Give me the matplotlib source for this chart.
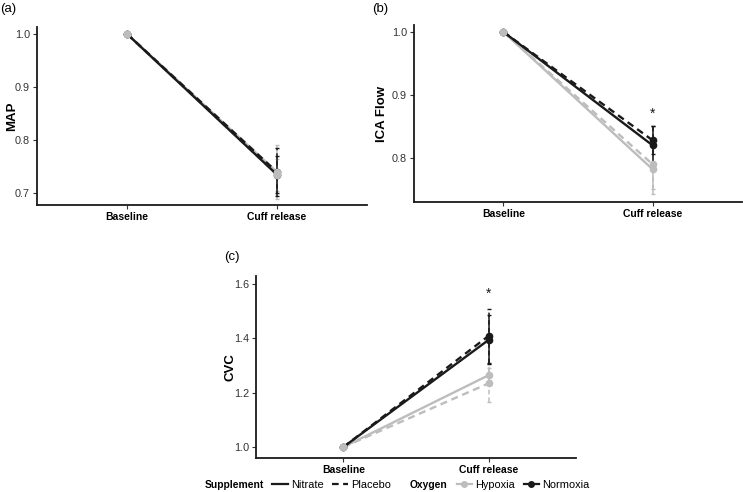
import matplotlib
matplotlib.use('Agg')
from matplotlib import pyplot as plt
from matplotlib.lines import Line2D
import numpy as np

plt.rcParams['font.family'] = ['Liberation Sans', 'DejaVu Sans']

conditions = ['Baseline', 'Cuff release']
# group order: (supplement, oxygen)
groups = [('Nitrate', 'Hypoxia'), ('Placebo', 'Hypoxia'),
          ('Nitrate', 'Normoxia'), ('Placebo', 'Normoxia')]

# cuff release means / error half-widths, baseline is 1.0 for all
map_mean = [0.740, 0.735, 0.735, 0.740]
map_err = [0.050, 0.030, 0.035, 0.045]
ica_mean = [0.782, 0.790, 0.820, 0.828]
ica_err = [0.040, 0.040, 0.030, 0.022]
cvc_mean = [1.265, 1.235, 1.395, 1.410]
cvc_err = [0.025, 0.070, 0.090, 0.100]

ica_star = 0.870
cvc_star = 1.565

col = {'Hypoxia': '#bdbdbd', 'Normoxia': '#1a1a1a'}
ls = {'Nitrate': '-', 'Placebo': (0, (3, 2))}

W, H = 743, 492
fig = plt.figure(figsize=(W / 100, H / 100), dpi=100)


def add_ax(l, r, t, b):
    return fig.add_axes([l / W, 1 - b / H, (r - l) / W, (b - t) / H])


def panel(ax, means, errs, ylab, ylim, yticks, labx, star=None):
    x = np.arange(1, 3)
    for i in range(4):
        sup, oxy = groups[i]
        ax.plot(x, [1.0, means[i]], color=col[oxy], ls=ls[sup], lw=1.7, zorder=2 + (oxy == 'Normoxia'))
    for i in range(4):
        sup, oxy = groups[i]
        eb = ax.errorbar([2], [means[i]], yerr=[errs[i]], fmt='none', ecolor=col[oxy],
                         elinewidth=1.1, capsize=1.5, zorder=3)
        for c in eb[2]:
            c.set_linestyle(ls[sup])
    for i in [2, 3, 0, 1]:
        sup, oxy = groups[i]
        ax.plot(x, [1.0, means[i]], 'o', color=col[oxy], ms=4.5, zorder=5)
    if star is not None:
        ax.text(2, star, '*', ha='center', va='center', fontsize=10, color='#1a1a1a')
    ax.set_xlim(0.4, 2.6)
    ax.set_ylim(*ylim)
    ax.set_xticks(x)
    ax.set_xticklabels(conditions, fontweight='bold', fontsize=7.5)
    ax.set_yticks(yticks)
    ax.set_yticklabels(['%.1f' % v for v in yticks], fontsize=7.8, color='#333333')
    ax.set_ylabel(ylab, fontweight='bold', fontsize=9.5)
    w = ax.get_position().width * W
    ax.yaxis.set_label_coords(-labx / w, 0.5)
    for s in ['top', 'right']:
        ax.spines[s].set_visible(False)
    for s in ['left', 'bottom']:
        ax.spines[s].set_linewidth(1.3)
        ax.spines[s].set_color('#1a1a1a')
    ax.tick_params(length=3, width=0.8, color='#333333', pad=2)


ax1 = add_ax(37, 367, 27, 205)
panel(ax1, map_mean, map_err, 'MAP', (0.678, 1.013), [0.7, 0.8, 0.9, 1.0], 19)
ax2 = add_ax(414, 742, 25, 202)
panel(ax2, ica_mean, ica_err, 'ICA Flow', (0.73, 1.011), [0.8, 0.9, 1.0], 26, ica_star)
ax3 = add_ax(256, 576, 276, 458)
panel(ax3, cvc_mean, cvc_err, 'CVC', (0.96, 1.63), [1.0, 1.2, 1.4, 1.6], 19, cvc_star)

fig.text(0 / W, 1 - 9 / H, '(a)', fontsize=9.5, va='center')
fig.text(372 / W, 1 - 9 / H, '(b)', fontsize=9.5, va='center')
fig.text(224 / W, 1 - 257 / H, '(c)', fontsize=9.5, va='center')


def title_left(leg):
    c = leg.get_children()[0]
    title = c.get_children()[0]
    hpack = c.get_children()[1]
    c._children = [hpack]
    hpack._children = [title] + hpack.get_children()
    leg.get_title().set_fontweight('bold')
    leg.get_title().set_fontsize(7.4)


kw = dict(frameon=False, fontsize=7.9, handlelength=1.4, handletextpad=0.3,
          columnspacing=0.8, borderpad=0, borderaxespad=0)
sup_h = [Line2D([], [], color='#1a1a1a', ls='-', lw=1.6),
         Line2D([], [], color='#1a1a1a', ls=(0, (3, 2)), lw=1.6)]
leg1 = fig.legend(sup_h, ['Nitrate', 'Placebo'], title='Supplement', ncol=2,
                  loc='center right', bbox_to_anchor=(391 / W, 1 - 485 / H), **kw)
title_left(leg1)
oxy_h = [Line2D([], [], color='#bdbdbd', ls='-', lw=1.6, marker='o', ms=4),
         Line2D([], [], color='#1a1a1a', ls='-', lw=1.6, marker='o', ms=4)]
leg2 = fig.legend(oxy_h, ['Hypoxia', 'Normoxia'], title='Oxygen', ncol=2,
                  loc='center left', bbox_to_anchor=(410 / W, 1 - 485 / H), **kw)
title_left(leg2)

fig.savefig('out.png', dpi=100)
